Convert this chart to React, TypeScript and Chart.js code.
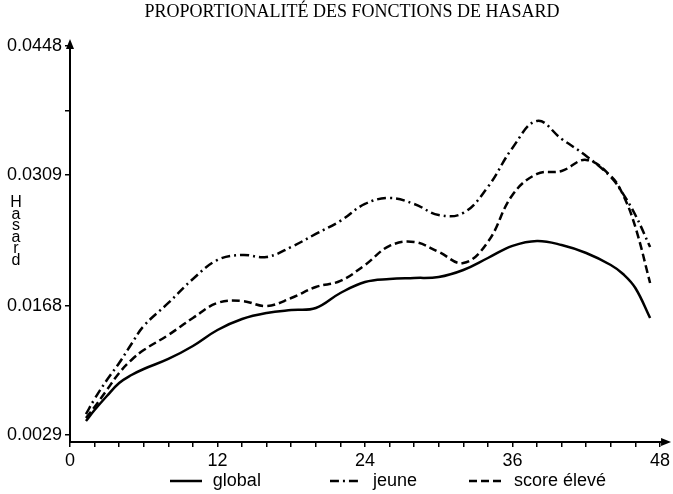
import React, { useEffect, useRef } from 'react';
import { Chart, registerables } from 'chart.js';

Chart.register(...registerables);

const TITLE = 'PROPORTIONALITÉ DES FONCTIONS DE HASARD';
const Y_LETTERS = 'Hasard';

const weeks = [1.3, 2, 3, 4, 5, 6, 8, 10, 12, 14, 16, 18, 20, 22, 24, 26, 28, 30, 32, 34, 36, 38, 40, 42, 44, 45, 46, 47.2];

const globalHazard = [0.00441, 0.00559, 0.0071, 0.0085, 0.00936, 0.01001, 0.01109, 0.01249, 0.01421, 0.01539, 0.01604, 0.01636, 0.01658, 0.01819, 0.01938, 0.0197, 0.01981, 0.01992, 0.02067, 0.02196, 0.02326, 0.02379, 0.02336, 0.0225, 0.02121, 0.02024, 0.01873, 0.0155];

const jeuneHazard = [0.00516, 0.00678, 0.00882, 0.01065, 0.0127, 0.01464, 0.01712, 0.0197, 0.02175, 0.02229, 0.02207, 0.02315, 0.02455, 0.02595, 0.02778, 0.02842, 0.02778, 0.02659, 0.02681, 0.02961, 0.03381, 0.03672, 0.03478, 0.03295, 0.03069, 0.02886, 0.02659, 0.02315];

const scoreEleveHazard = [0.00473, 0.00592, 0.00775, 0.00958, 0.01098, 0.01205, 0.01367, 0.0155, 0.01712, 0.01733, 0.01679, 0.01765, 0.01884, 0.01949, 0.02121, 0.02326, 0.02369, 0.02261, 0.02142, 0.02369, 0.02875, 0.03101, 0.03133, 0.03252, 0.03079, 0.02875, 0.0253, 0.01927];

const seriesLabels = ['global', 'jeune', 'score élevé'];
const seriesDash: number[][] = [[], [9, 4, 2, 4], [8, 4]];

const yTickValues = [0.0029, 0.0168, 0.0309, 0.03785, 0.0448];
const yTickLabels = ['0.0029', '0.0168', '0.0309', '', '0.0448'];

const xTickValues = [0, 2, 4, 6, 8, 10, 12, 14, 16, 18, 20, 22, 24, 26, 28, 30, 32, 34, 36, 38, 40, 42, 44, 46, 48];
const xLabelledTicks = [0, 12, 24, 36, 48];

const legendTrailingSpaces = [13, 10, 12];
const TITLE_LEAD = 8;

const SANS = '"Liberation Sans", Arial, sans-serif';
const SERIF = '"Liberation Serif", "Times New Roman", serif';

function makeSample(dash: number[], w: number) {
  const c = document.createElement('canvas');
  c.width = w;
  c.height = 6;
  const g = c.getContext('2d');
  if (g) {
    g.strokeStyle = '#000';
    g.lineWidth = 2.5;
    g.setLineDash(dash);
    g.beginPath();
    g.moveTo(0, 3);
    g.lineTo(w, 3);
    g.stroke();
  }
  return c;
}

const decorations = {
  id: 'decorations',
  afterDraw(chart: any) {
    const { ctx, chartArea: a } = chart;
    ctx.save();
    ctx.fillStyle = '#000';
    ctx.beginPath();
    ctx.moveTo(a.left, a.top - 5);
    ctx.lineTo(a.left - 4, a.top + 5);
    ctx.lineTo(a.left + 4, a.top + 5);
    ctx.closePath();
    ctx.fill();
    ctx.beginPath();
    ctx.moveTo(a.right + 5, a.bottom);
    ctx.lineTo(a.right - 5, a.bottom - 4);
    ctx.lineTo(a.right - 5, a.bottom + 4);
    ctx.closePath();
    ctx.fill();
    ctx.font = '16px "Liberation Sans"';
    ctx.textAlign = 'center';
    ctx.textBaseline = 'alphabetic';
    const y0 = chart.scales.y.getPixelForValue(0.0309) + 32;
    Y_LETTERS.split('').forEach((ch: string, i: number) => {
      ctx.fillText(ch, 16, y0 + i * 11.6);
    });
    ctx.restore();
  },
};

export default function App() {
  const ref = useRef<HTMLCanvasElement | null>(null);

  useEffect(() => {
    document.body.style.margin = '0';
    document.body.style.overflow = 'hidden';
    const canvas = ref.current;
    if (!canvas) return;
    const mk = (data: number[]) => weeks.map((w, i) => ({ x: w, y: data[i] }));
    const samples = [makeSample(seriesDash[0], 32), makeSample(seriesDash[1], 32), makeSample(seriesDash[2], 36)];
    const series = [globalHazard, jeuneHazard, scoreEleveHazard];
    const chart = new Chart(canvas, {
      type: 'line',
      data: {
        datasets: series.map((d, i) => ({
          label: seriesLabels[i],
          data: mk(d),
          borderColor: '#000',
          backgroundColor: '#000',
          borderWidth: 2.5,
          borderDash: seriesDash[i],
          pointRadius: 0,
          tension: 0.4,
          fill: false,
        })),
      },
      options: {
        responsive: false,
        animation: false,
        devicePixelRatio: 1,
        layout: { padding: { left: 0, right: 5, top: 0, bottom: -6 } },
        font: { family: SANS, size: 18 },
        color: '#000',
        plugins: {
          tooltip: { enabled: false },
          title: {
            display: true,
            text: ' '.repeat(TITLE_LEAD) + TITLE,
            color: '#000',
            font: { family: SERIF, size: 18, weight: 'normal' },
            padding: { top: 1, bottom: 21.4 },
          },
          legend: {
            display: true,
            position: 'bottom',
            align: 'end',
            labels: {
              color: '#000',
              font: { family: SANS, size: 18 },
              usePointStyle: true,
              pointStyleWidth: 36,
              padding: 2,
              generateLabels: (c: any) => {
                const items = (Chart as any).defaults.plugins.legend.labels.generateLabels(c);
                return items.map((it: any, i: number) => ({
                  ...it,
                  pointStyle: samples[i],
                  text: it.text + ' '.repeat(legendTrailingSpaces[i]),
                }));
              },
            },
          },
        },
        scales: {
          x: {
            type: 'linear',
            min: 0,
            max: 48.5,
            afterBuildTicks: (s: any) => {
              s.ticks = xTickValues.map((v) => ({ value: v }));
            },
            afterFit: (s: any) => {
              s.height = 28;
            },
            ticks: {
              color: '#000',
              padding: 3,
              maxRotation: 0,
              autoSkip: false,
              font: { family: SANS, size: 18 },
              callback: (v: any) => (xLabelledTicks.includes(Number(v)) ? String(v) : ''),
            },
            grid: { drawOnChartArea: false, drawTicks: true, tickLength: 5, color: '#000', lineWidth: 1.5 },
            border: { display: true, color: '#000', width: 2 },
          },
          y: {
            type: 'linear',
            min: 0.00215,
            max: 0.045,
            afterBuildTicks: (s: any) => {
              s.ticks = yTickValues.map((v) => ({ value: v }));
            },
            afterFit: (s: any) => {
              s.width = 70;
            },
            ticks: {
              color: '#000',
              padding: 3,
              autoSkip: false,
              font: { family: SANS, size: 18 },
              callback: (_v: any, i: number) => yTickLabels[i],
            },
            grid: { drawOnChartArea: false, drawTicks: true, tickLength: 5, color: '#000', lineWidth: 1.5 },
            border: { display: true, color: '#000', width: 2 },
          },
        },
      },
      plugins: [decorations],
    } as any);
    return () => chart.destroy();
  }, []);

  return (
    <div style={{ width: 673, height: 494, background: '#fff' }}>
      <canvas ref={ref} width={673} height={494} />
    </div>
  );
}
